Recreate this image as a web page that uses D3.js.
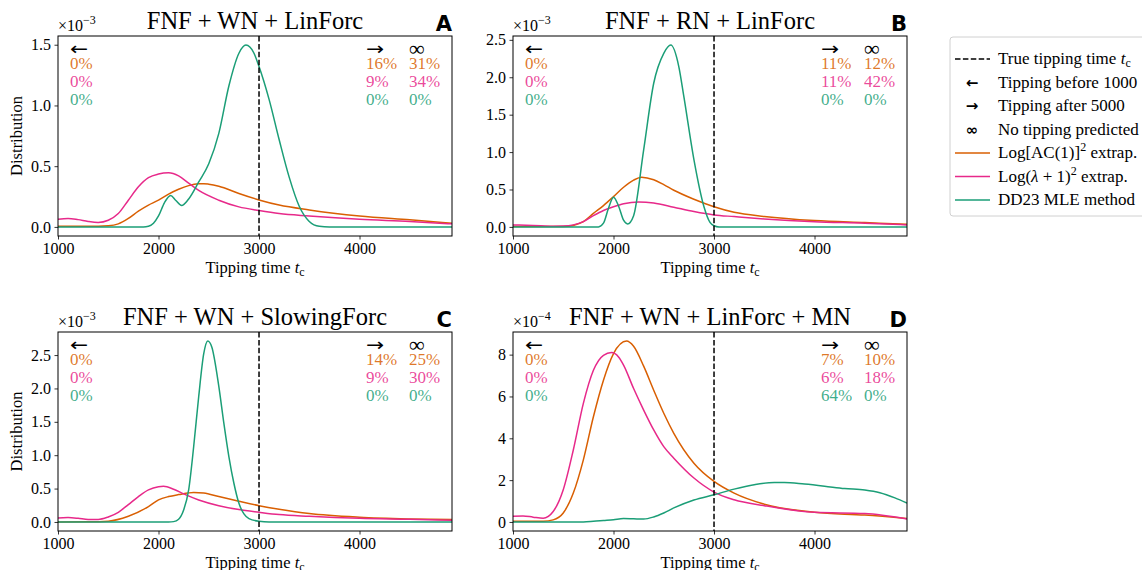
<!DOCTYPE html>
<html><head><meta charset="utf-8">
<script src="https://cdn.jsdelivr.net/npm/d3@7"></script>
<style>
body{margin:0;background:#fff;}
svg{display:block;font-family:"Liberation Serif","DejaVu Serif",serif;}
</style></head><body>
<svg id="chart" width="1142" height="570"></svg>
<script>
// ---------- data ----------
const panelTitles = ["FNF + WN + LinForc","FNF + RN + LinForc","FNF + WN + SlowingForc","FNF + WN + LinForc + MN"];
const panelLetters = ["A","B","C","D"];
const panelExponents = ["−3","−3","−3","−4"];
const xTickValues = [1000,2000,3000,4000];
const yTicksA = [0,0.5,1.0,1.5];
const yTicksB = [0,0.5,1.0,1.5,2.0,2.5];
const yTicksC = [0,0.5,1.0,1.5,2.0,2.5];
const yTicksD = [0,2,4,6,8];
const trueTippingTime = 3000;
const seriesColors = ["#d95f02","#e7298a","#1b9e77"];

// percentages: [before 1000, after 5000, no tipping] for [orange, pink, green]
const pctA = [["0%","16%","31%"],["0%","9%","34%"],["0%","0%","0%"]];
const pctB = [["0%","11%","12%"],["0%","11%","42%"],["0%","0%","0%"]];
const pctC = [["0%","14%","25%"],["0%","9%","30%"],["0%","0%","0%"]];
const pctD = [["0%","7%","10%"],["0%","6%","18%"],["0%","64%","0%"]];

// curves: [t, density] (A,B,C in 1e-3 ; D in 1e-4)
const orangeA = [[1000,0.005],[1300,0.005],[1500,0.01],[1600,0.025],[1700,0.07],[1800,0.13],[1900,0.18],[2000,0.22],[2100,0.27],[2200,0.31],[2300,0.34],[2400,0.355],[2450,0.356],[2500,0.352],[2600,0.335],[2800,0.275],[3000,0.222],[3200,0.18],[3500,0.14],[4000,0.09],[4500,0.058],[4920,0.03]];
const pinkA = [[1000,0.063],[1100,0.07],[1200,0.06],[1300,0.045],[1400,0.037],[1500,0.055],[1600,0.11],[1700,0.22],[1800,0.33],[1900,0.405],[2000,0.435],[2100,0.445],[2200,0.42],[2300,0.36],[2400,0.30],[2600,0.22],[2800,0.165],[3000,0.135],[3200,0.11],[3500,0.09],[4000,0.063],[4500,0.045],[4920,0.025]];
const greenA = [[1000,0],[1850,0],[1900,0.005],[1950,0.03],[2000,0.09],[2060,0.2],[2120,0.258],[2170,0.22],[2230,0.176],[2300,0.23],[2400,0.37],[2500,0.52],[2600,0.77],[2700,1.16],[2800,1.43],[2870,1.497],[2950,1.43],[3000,1.32],[3100,1.05],[3200,0.72],[3300,0.41],[3400,0.17],[3500,0.045],[3600,0.005],[3700,0],[4920,0]];

const orangeB = [[1000,0.005],[1500,0.005],[1600,0.02],[1700,0.07],[1800,0.18],[1900,0.285],[2000,0.405],[2100,0.53],[2200,0.625],[2280,0.664],[2400,0.63],[2500,0.565],[2600,0.49],[2800,0.37],[3000,0.27],[3200,0.196],[3500,0.14],[4000,0.085],[4500,0.058],[4920,0.036]];
const pinkB = [[1000,0.027],[1200,0.02],[1400,0.01],[1500,0.012],[1600,0.027],[1700,0.07],[1800,0.15],[1900,0.22],[2000,0.27],[2100,0.31],[2250,0.334],[2400,0.32],[2600,0.263],[2800,0.205],[3000,0.16],[3200,0.138],[3500,0.107],[4000,0.07],[4500,0.05],[4920,0.027]];
const greenB = [[1000,0],[1850,0],[1900,0.05],[1950,0.25],[2000,0.397],[2050,0.28],[2100,0.09],[2140,0.04],[2200,0.15],[2300,1.03],[2400,1.92],[2500,2.32],[2570,2.43],[2650,2.14],[2700,1.74],[2800,0.9],[2900,0.27],[2960,0.06],[3000,0.015],[3050,0],[4920,0]];

const orangeC = [[1000,0.0],[1300,0.002],[1500,0.012],[1700,0.085],[1900,0.23],[2000,0.33],[2100,0.38],[2200,0.41],[2350,0.443],[2450,0.435],[2600,0.38],[2800,0.31],[3000,0.244],[3200,0.19],[3500,0.125],[4000,0.07],[4500,0.045],[4920,0.035]];
const pinkC = [[1000,0.06],[1100,0.065],[1200,0.055],[1300,0.038],[1400,0.037],[1500,0.075],[1600,0.145],[1700,0.26],[1800,0.38],[1900,0.48],[2000,0.527],[2050,0.533],[2150,0.49],[2250,0.42],[2400,0.33],[2600,0.244],[2800,0.185],[3000,0.145],[3200,0.11],[3500,0.085],[4000,0.055],[4500,0.04],[4920,0.025]];
const greenC = [[1000,0],[2100,0],[2150,0.005],[2200,0.04],[2250,0.18],[2300,0.48],[2350,1.13],[2400,1.88],[2450,2.52],[2490,2.71],[2530,2.62],[2600,2.03],[2650,1.48],[2700,0.98],[2750,0.58],[2800,0.28],[2850,0.12],[2900,0.05],[3000,0.01],[3100,0],[4920,0]];

const orangeD = [[1000,0.03],[1300,0.03],[1400,0.1],[1500,0.43],[1600,1.38],[1700,2.97],[1800,5.03],[1900,6.78],[2000,8.05],[2130,8.65],[2200,8.4],[2300,7.45],[2400,6.3],[2500,5.2],[2600,4.24],[2800,2.81],[3000,1.94],[3200,1.38],[3500,0.85],[4000,0.46],[4500,0.33],[4920,0.17]];
const pinkD = [[1000,0.27],[1100,0.29],[1200,0.23],[1300,0.18],[1400,0.5],[1500,1.54],[1600,3.44],[1700,5.67],[1800,7.25],[1900,7.97],[1980,8.1],[2050,7.89],[2100,7.5],[2200,6.38],[2300,5.35],[2400,4.4],[2500,3.6],[2600,3.05],[2800,2.1],[3000,1.43],[3200,1.06],[3500,0.78],[4000,0.46],[4500,0.4],[4920,0.14]];
const greenD = [[1000,0],[1700,0],[1800,0.03],[1900,0.07],[2000,0.11],[2100,0.16],[2200,0.15],[2300,0.14],[2400,0.24],[2500,0.43],[2600,0.67],[2800,1.05],[3000,1.3],[3200,1.57],[3400,1.78],[3600,1.89],[3700,1.89],[3900,1.81],[4100,1.71],[4300,1.6],[4500,1.53],[4650,1.4],[4800,1.15],[4920,0.9]];

// ---------- layout ----------
const panels = [
  {x0:58,  x1:452, y0:36,  y1:236, series:[orangeA,pinkA,greenA], yTicks:yTicksA, fmt:".1f", pct:pctA, ylabel:true},
  {x0:513, x1:907, y0:36,  y1:236, series:[orangeB,pinkB,greenB], yTicks:yTicksB, fmt:".1f", pct:pctB, ylabel:false},
  {x0:58,  x1:452, y0:332, y1:531, series:[orangeC,pinkC,greenC], yTicks:yTicksC, fmt:".1f", pct:pctC, ylabel:true},
  {x0:513, x1:907, y0:332, y1:531, series:[orangeD,pinkD,greenD], yTicks:yTicksD, fmt:"d",   pct:pctD, ylabel:false}
];
const xDomain = [1000, 4920];
const SERIF = "Liberation Serif, serif";
const SANS = "DejaVu Sans, sans-serif";

const svg = d3.select("#chart");

panels.forEach((p, i) => {
  const x = d3.scaleLinear().domain(xDomain).range([p.x0, p.x1]);
  const allV = p.series.flat().map(d => d[1]);
  const vmin = d3.min(allV), vmax = d3.max(allV);
  const pad = 0.05 * (vmax - vmin);
  const y = d3.scaleLinear().domain([vmin - pad, vmax + pad]).range([p.y1, p.y0]);
  const g = svg.append("g");
  const clipId = "clip" + i;
  svg.append("clipPath").attr("id", clipId).append("rect")
    .attr("x", p.x0).attr("y", p.y0).attr("width", p.x1 - p.x0).attr("height", p.y1 - p.y0);

  const line = d3.line().x(d => x(d[0])).y(d => y(d[1])).curve(d3.curveMonotoneX);
  const plot = g.append("g").attr("clip-path", `url(#${clipId})`);
  p.series.forEach((s, k) => {
    plot.append("path").datum(s).attr("d", line)
      .attr("fill", "none").attr("stroke", seriesColors[k]).attr("stroke-width", 1.5);
  });
  plot.append("line")
    .attr("x1", x(trueTippingTime)).attr("x2", x(trueTippingTime))
    .attr("y1", p.y0).attr("y2", p.y1)
    .attr("stroke", "#000").attr("stroke-width", 1.5).attr("stroke-dasharray", "5.5,2.4");

  // axes
  const xAxis = d3.axisBottom(x).tickValues(xTickValues).tickFormat(d3.format("d")).tickSize(3.5).tickPadding(3.5);
  const yAxis = d3.axisLeft(y).tickValues(p.yTicks).tickFormat(d3.format(p.fmt)).tickSize(3.5).tickPadding(3.5);
  const gx = g.append("g").attr("transform", `translate(0,${p.y1})`).call(xAxis);
  const gy = g.append("g").attr("transform", `translate(${p.x0},0)`).call(yAxis);
  [gx, gy].forEach(a => {
    a.select(".domain").remove();
    a.selectAll("text").attr("font-family", SERIF).attr("font-size", 16).attr("fill", "#000");
    a.selectAll("line").attr("stroke", "#000").attr("stroke-width", 0.8);
  });
  g.append("rect").attr("x", p.x0).attr("y", p.y0).attr("width", p.x1 - p.x0).attr("height", p.y1 - p.y0)
    .attr("fill", "none").attr("stroke", "#000").attr("stroke-width", 1);

  // labels
  const tl = g.append("text").attr("x", (p.x0 + p.x1) / 2).attr("y", p.y1 + 37)
    .attr("text-anchor", "middle").attr("font-size", 16.5);
  tl.append("tspan").text("Tipping time ");
  tl.append("tspan").attr("font-style", "italic").text("t");
  tl.append("tspan").attr("font-size", 12).attr("dy", 3).text("c");
  if (p.ylabel) {
    g.append("text").attr("transform", `translate(${p.x0 - 36},${(p.y0 + p.y1) / 2}) rotate(-90)`)
      .attr("text-anchor", "middle").attr("font-size", 16.5).text("Distribution");
  }
  g.append("text").attr("x", (p.x0 + p.x1) / 2).attr("y", p.y0 - 7)
    .attr("text-anchor", "middle").attr("font-size", 24.5).text(panelTitles[i]);
  g.append("text").attr("x", p.x1).attr("y", p.y0 - 5)
    .attr("text-anchor", "end").attr("font-size", 21).attr("font-weight", "bold")
    .attr("font-family", SANS).text(panelLetters[i]);
  const ex = g.append("text").attr("x", p.x0).attr("y", p.y0 - 5).attr("font-size", 16);
  ex.append("tspan").text("×10");
  ex.append("tspan").attr("font-size", 12).attr("dy", -7).text(panelExponents[i]);

  // annotations
  const ax = p.x0 + 12, bx = p.x0 + 308, cx = p.x0 + 351;
  g.append("text").attr("x", ax).attr("y", p.y0 + 19).attr("font-size", 18).attr("font-family", SANS)
    .attr("transform", `translate(${ax},0) scale(1.2,1) translate(${-ax},0)`).text("←");
  g.append("text").attr("x", bx).attr("y", p.y0 + 19).attr("font-size", 18).attr("font-family", SANS)
    .attr("transform", `translate(${bx},0) scale(1.2,1) translate(${-bx},0)`).text("→");
  g.append("text").attr("x", cx).attr("y", p.y0 + 20).attr("font-size", 22).attr("font-family", SERIF).text("∞");
  p.pct.forEach((row, k) => {
    const yy = p.y0 + 33 + 18 * k;
    [ax, bx, cx].forEach((xx, j) => {
      g.append("text").attr("x", xx).attr("y", yy).attr("font-size", 17)
        .attr("fill", seriesColors[k]).attr("fill-opacity", 0.85).text(row[j]);
    });
  });
});

// ---------- legend ----------
const lg = svg.append("g");
lg.append("rect").attr("x", 950).attr("y", 37).attr("width", 210).attr("height", 179)
  .attr("rx", 3).attr("fill", "#fff").attr("stroke", "#d0d0d0").attr("stroke-width", 1);
const rowY = d => 59 + d * 23.5;
const legendItems = [
  {type:"dash"},
  {type:"sym", sym:"←"},
  {type:"sym", sym:"→"},
  {type:"sym", sym:"∞"},
  {type:"line", color:seriesColors[0]},
  {type:"line", color:seriesColors[1]},
  {type:"line", color:seriesColors[2]}
];
legendItems.forEach((it, k) => {
  const yy = rowY(k);
  if (it.type === "dash") {
    lg.append("line").attr("x1", 955).attr("x2", 990).attr("y1", yy).attr("y2", yy)
      .attr("stroke", "#000").attr("stroke-width", 1.5).attr("stroke-dasharray", "5.5,2.4");
  } else if (it.type === "line") {
    lg.append("line").attr("x1", 955).attr("x2", 990).attr("y1", yy).attr("y2", yy)
      .attr("stroke", it.color).attr("stroke-width", 1.5);
  } else {
    lg.append("text").attr("x", 972).attr("y", yy + 5).attr("text-anchor", "middle")
      .attr("font-family", SANS).attr("font-weight", "bold").attr("font-size", 15).text(it.sym);
  }
});
const lt = (k) => lg.append("text").attr("x", 998).attr("y", rowY(k) + 5).attr("font-size", 17);
let t0 = lt(0); t0.append("tspan").text("True tipping time "); t0.append("tspan").attr("font-style","italic").text("t"); t0.append("tspan").attr("font-size",12).attr("dy",3).text("c");
lt(1).text("Tipping before 1000");
lt(2).text("Tipping after 5000");
lt(3).text("No tipping predicted");
let t4 = lt(4); t4.append("tspan").text("Log[AC(1)]"); t4.append("tspan").attr("font-size",12).attr("dy",-7).text("2"); t4.append("tspan").attr("dy",7).text(" extrap.");
let t5 = lt(5); t5.append("tspan").text("Log("); t5.append("tspan").attr("font-style","italic").text("λ"); t5.append("tspan").text(" + 1)"); t5.append("tspan").attr("font-size",12).attr("dy",-7).text("2"); t5.append("tspan").attr("dy",7).text(" extrap.");
lt(6).text("DD23 MLE method");
</script>
</body></html>
